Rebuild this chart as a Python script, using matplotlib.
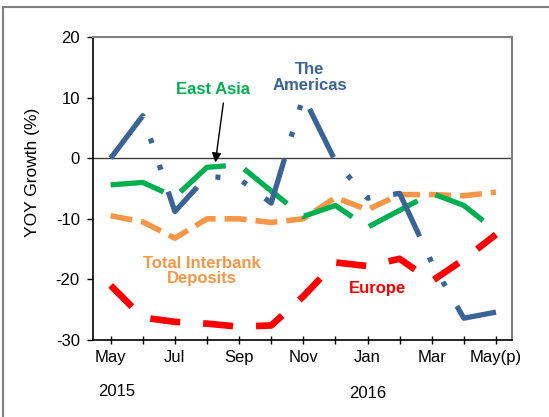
import matplotlib
matplotlib.use("Agg")
import matplotlib.pyplot as plt
import matplotlib.transforms as mtransforms
from matplotlib.patches import Rectangle

plt.rcParams['font.family'] = ['Liberation Sans', 'DejaVu Sans']
plt.rcParams['lines.scale_dashes'] = False
plt.rcParams['axes.unicode_minus'] = False

months = ['May', 'Jun', 'Jul', 'Aug', 'Sep', 'Oct', 'Nov',
          'Dec', 'Jan', 'Feb', 'Mar', 'Apr', 'May(p)']
shown = ['May', '', 'Jul', '', 'Sep', '', 'Nov', '', 'Jan', '', 'Mar', '', 'May(p)']

total_interbank = [-9.5, -10.5, -13.2, -10.0, -10.0, -10.6, -10.0,
                   -6.5, -8.5, -6.0, -6.0, -6.2, -5.6]
east_asia = [-4.4, -4.0, -6.4, -1.5, -1.1, -5.4, -9.6,
             -7.8, -11.4, -8.6, -5.8, -7.8, -12.0]
americas = [0.0, 7.0, -8.8, -3.0, -3.4, -7.4, 10.2,
            -0.5, -6.6, -5.8, -17.2, -26.4, -25.4]
europe = [-21.0, -26.3, -27.0, -27.3, -27.8, -27.6, -22.8,
          -17.2, -17.8, -16.6, -20.3, -16.7, -12.6]

BLUE = '#3A6396'
GREEN = '#00B050'
ORANGE = '#F79646'
RED = '#FF0000'

x = list(range(len(months)))

fig = plt.figure(figsize=(5.49, 4.17), dpi=100)
ax = fig.add_axes([93/549, 1-340/417, (512-93)/549, (340-37)/417])

ax.axhline(0, color='#404040', lw=1.0, zorder=1)

l, = ax.plot(x, total_interbank, color=ORANGE, lw=4.0, zorder=2)
l.set_dashes((15.8, 6.5))
l, = ax.plot(x, europe, color=RED, lw=4.8, zorder=2)
l.set_dashes((21.6, 16.6))
l, = ax.plot(x, east_asia, color=GREEN, lw=3.8, zorder=3)
l.set_dashes((39.6, 14.4))
l, = ax.plot(x, americas, color=BLUE, lw=3.8, zorder=4)
l.set_dashes((38.9, 16.6, 3.6, 16.6, 3.6, 16.6))

ax.set_xlim(-0.55, 12.5)
ax.set_ylim(-30, 20)
ax.set_yticks([-30, -20, -10, 0, 10, 20])
ax.set_xticks(x)
ax.set_xticklabels(shown)
ax.tick_params(axis='x', direction='inout', length=6, width=1, pad=4, labelsize=12)
ax.tick_params(axis='y', direction='out', length=4.5, width=1, pad=5, labelsize=12)

for side in ['left', 'bottom']:
    ax.spines[side].set_color('black')
    ax.spines[side].set_linewidth(1.2)
for side in ['top', 'right']:
    ax.spines[side].set_color('#7F7F7F')
    ax.spines[side].set_linewidth(1.5)

# year labels under the month labels
trans = mtransforms.blended_transform_factory(ax.transData, fig.transFigure)
ax.text(0.2, 1-392/417, '2015', transform=trans, ha='center', va='center', fontsize=12)
ax.text(8.0, 1-393/417, '2016', transform=trans, ha='center', va='center', fontsize=12)

fig.text(32/549, 1-172/417, 'YOY Growth (%)', rotation=90, ha='center', va='center', fontsize=12.5)

# series labels
ax.text(3.2, 11.4, 'East Asia', color=GREEN, fontsize=12, fontweight='bold',
        ha='center', va='center')
ax.annotate('', xy=(3.26, -0.7), xytext=(3.51, 9.1),
            arrowprops=dict(arrowstyle='-|>', color='black', lw=1.0,
                            mutation_scale=14, shrinkA=0, shrinkB=0))
ax.text(6.21, 13.3, 'The\nAmericas', color=BLUE, fontsize=12, fontweight='bold',
        ha='center', va='center', linespacing=1.05)
ax.text(2.83, -18.6, 'Total Interbank\nDeposits', color=ORANGE, fontsize=12,
        fontweight='bold', ha='center', va='center', linespacing=1.05)
ax.text(8.32, -21.5, 'Europe', color=RED, fontsize=12, fontweight='bold',
        ha='center', va='center')

# outer chart frame, partly cut off at the right and bottom
fig.patches.append(Rectangle((3/549, -0.2), 1.2, 1-7/417+0.2, transform=fig.transFigure,
                             fill=False, edgecolor='#7F7F7F', lw=1.5))

fig.savefig('out.png', dpi=100)
